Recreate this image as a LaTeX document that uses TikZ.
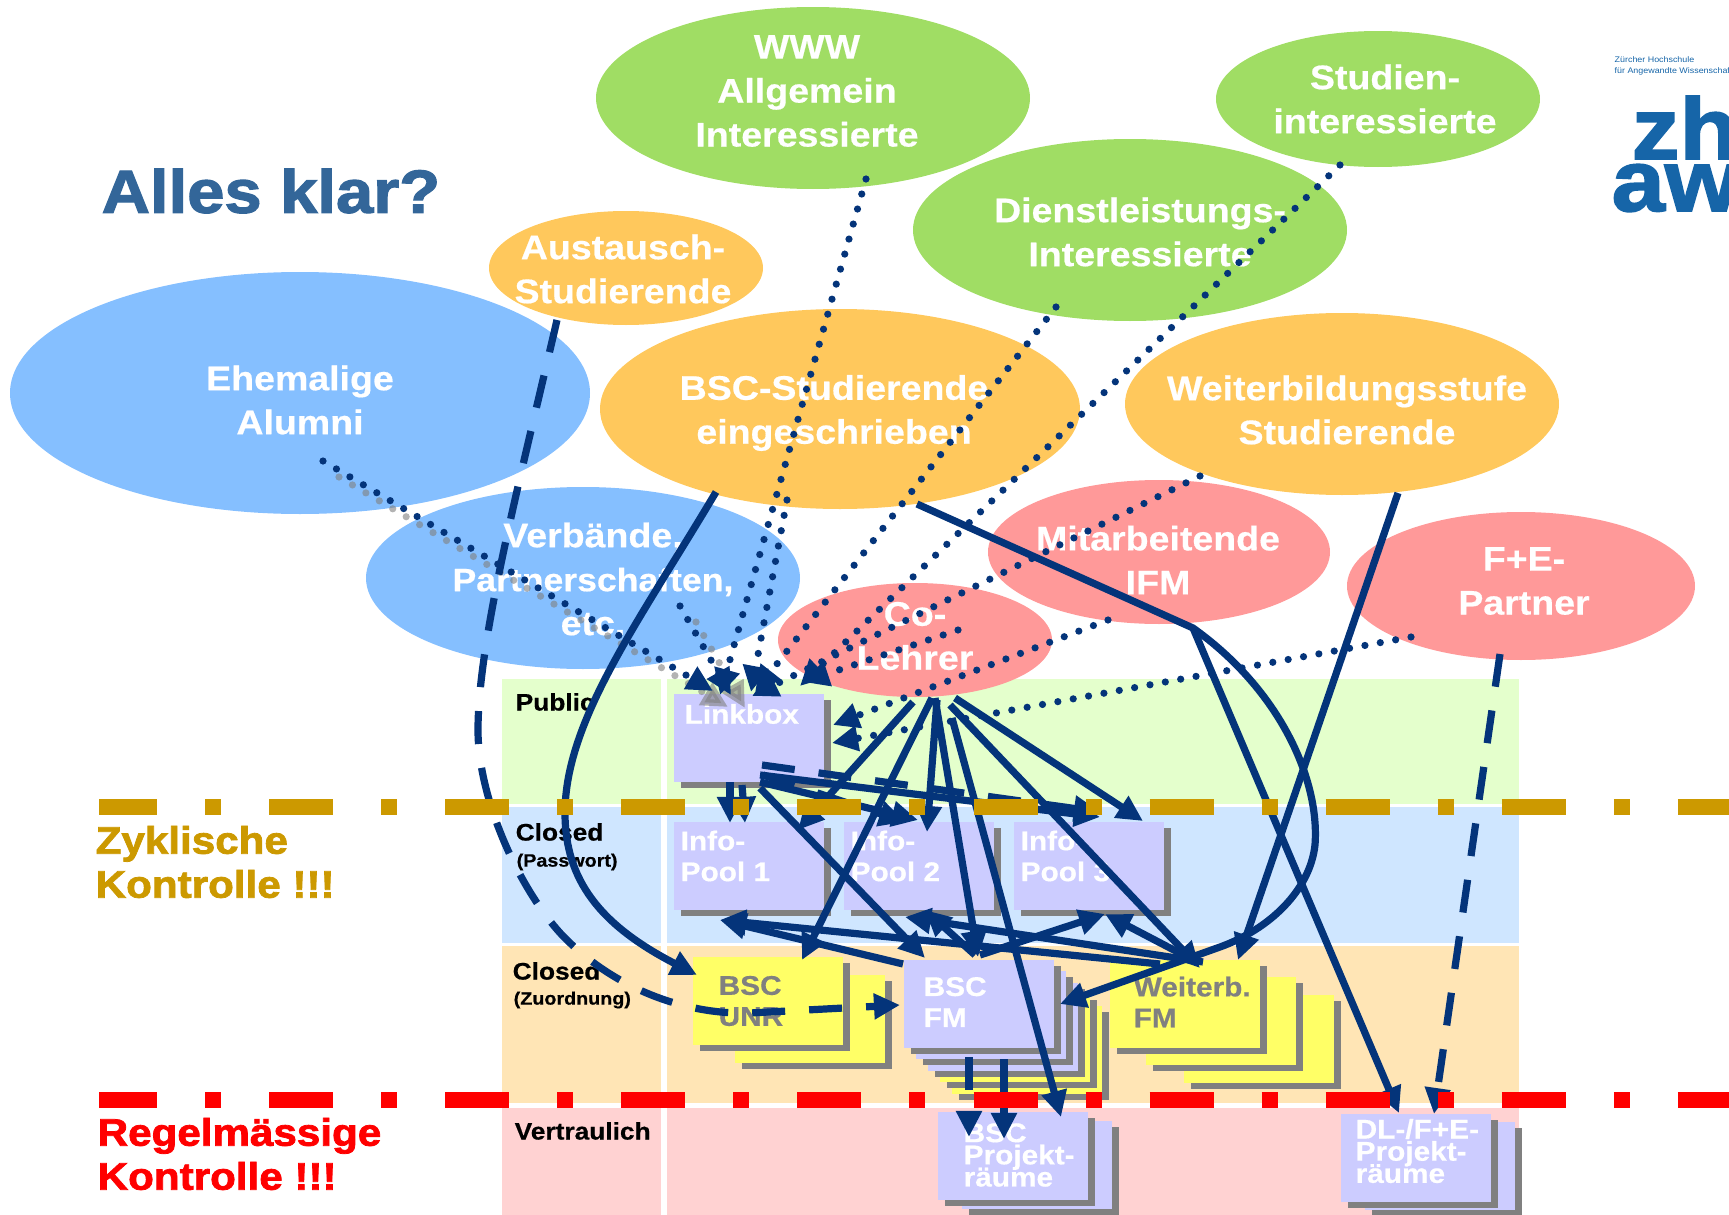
\documentclass[tikz,border=0pt]{standalone}
\usepackage{fontspec}
\setmainfont[FakeStretch=1.1,BoldFeatures={FakeBold=0.5}]{Liberation Sans}
\newfontfamily\heavyfont[FakeStretch=1.1,FakeBold=2]{Liberation Sans Bold}
\usetikzlibrary{arrows.meta,shapes.geometric,shadows}
\definecolor{navyline}{HTML}{04347A}
\definecolor{blobgreen}{HTML}{A0DD64}
\definecolor{bloborange}{HTML}{FFC85C}
\definecolor{blobblue}{HTML}{85BFFF}
\definecolor{blobpink}{HTML}{FF9999}
\definecolor{zonegreen}{HTML}{E4FFCC}
\definecolor{zoneblue}{HTML}{CFE6FF}
\definecolor{zoneorange}{HTML}{FFE5B5}
\definecolor{zonepink}{HTML}{FFD2D2}
\definecolor{cardblue}{HTML}{CCCCFF}
\definecolor{cardyellow}{HTML}{FFFF66}
\definecolor{titleblue}{HTML}{336699}
\definecolor{goldrule}{HTML}{CC9900}
\definecolor{zhawblue}{HTML}{1665A8}
\newcommand{\tightlines}{\setlength{\lineskiplimit}{-10pt}}
\tikzset{
  blob/.style 2 args={ellipse,inner sep=0pt,minimum width=2*#1*0.01cm,minimum height=2*#2*0.01cm},
  blobtext/.style={text=white,font=\fontsize{9.7}{12.5}\selectfont\bfseries,align=center,inner sep=0pt},
  card/.style={rectangle,anchor=north west,fill=cardblue,minimum width=1.5cm,minimum height=.88cm,inner sep=0pt,
    general shadow={fill=gray,shadow xshift=.07cm,shadow yshift=-.06cm}},
  cardtext/.style={anchor=west,align=left,inner sep=0pt,text=white,font=\fontsize{7.7}{8.8}\selectfont\bfseries},
  tighttext/.style={cardtext,font=\tightlines\fontsize{7.7}{6.3}\selectfont\bfseries},
  zonetext/.style={anchor=west,inner sep=0pt,font=\fontsize{6.8}{8}\selectfont\bfseries},
  zonesmall/.style={anchor=west,inner sep=0pt,font=\fontsize{5.1}{6}\selectfont\bfseries},
  warntext/.style={anchor=west,align=left,inner sep=0pt,font=\fontsize{10.9}{12.5}\selectfont\heavyfont},
  flow/.style={line width=2.05pt,draw=navyline,-{Triangle[length=7.4pt,width=7pt,fill=navyline]}},
  flowdash/.style={flow,dash pattern=on .33cm off .24cm},
  flowdot/.style={flow,line cap=round,dash pattern=on 0pt off .156cm},
  greydot/.style={line width=2.05pt,draw=gray,opacity=.6,line cap=round,dash pattern=on 0pt off .156cm,
    -{Triangle[length=7.4pt,width=7pt,fill=gray]}},
  ruleline/.style={line width=4.55pt,dash pattern=on .64cm off .48cm on .16cm off .48cm,dash phase=.06cm}
}
\begin{document}
\begin{tikzpicture}[x=0.01cm,y=-0.01cm]
\useasboundingbox (0,0) rectangle (1729,1215);

\foreach \col/\ya/\yb in {zonegreen/679/804,zoneblue/807/943,zoneorange/946/1103,zonepink/1108/1215}{
  \fill[\col] (502,\ya) rectangle (661,\yb);
  \fill[\col] (667,\ya) rectangle (1519,\yb);
}

\node[zonetext] (public) at (515,702) {Public};
\node[zonetext] (closedpw) at (515,832) {Closed};
\node[zonesmall] (passwort) at (516,862) {(Passwort)};
\node[zonetext] (closedzu) at (512,971) {Closed};
\node[zonesmall] (zuordnung) at (513,1000) {(Zuordnung)};
\node[zonetext] (vertraulich) at (514,1131) {Vertraulich};

\node[blob={217}{91},fill=blobgreen] (www) at (813,98) {};
\node[blob={162}{68},fill=blobgreen] (studien) at (1378,99) {};
\node[blob={217}{91},fill=blobgreen] (dienst) at (1130,230) {};
\node[blob={290}{121},fill=blobblue] (alumni) at (300,393) {};
\node[blob={217}{91},fill=blobblue] (verband) at (583,578) {};
\node[blob={171}{72},fill=blobpink] (mitarb) at (1159,552) {};
\node[blob={137}{57},fill=bloborange] (austausch) at (626,268) {};
\node[blob={240}{100},fill=bloborange] (bscstud) at (840,409) {};
\node[blob={217}{91},fill=bloborange] (weiterstud) at (1342,404) {};
\node[blob={174}{74},fill=blobpink] (fuepartner) at (1521,586) {};
\node[blob={137}{57},fill=blobpink] (colehrer) at (915,640) {};

\node[blobtext] (wwwtext) at (807,91) {WWW\\Allgemein\\Interessierte};
\node[blobtext] (studientext) at (1385,99) {Studien-\\interessierte};
\node[blobtext] (diensttext) at (1140,232) {Dienstleistungs-\\Interessierte};
\node[blobtext] (alumnitext) at (300,400) {Ehemalige\\Alumni};
\node[blobtext] (verbandtext) at (593,579) {Verbände,\\{\fontsize{9.2}{12.5}\selectfont Partnerschaften,}\\etc.};
\node[blobtext] (mitarbtext) at (1158,560) {Mitarbeitende\\IFM};
\node[blobtext] (austauschtext) at (623,269) {Austausch-\\Studierende};
\node[blobtext] (bsctext) at (834,413) {BSC-Studierende\\eingeschrieben};
\node[blobtext] (weitertext) at (1347,410) {Weiterbildungsstufe\\Studierende};
\node[blobtext] (fuetext) at (1524,581) {F+E-\\Partner};
\node[blobtext] (cotext) at (915,636) {Co-\\Lehrer};

\node[card] (linkbox) at (673,693) {};
\node[card] (infoa) at (673,821) {};
\node[card] (infob) at (843,821) {};
\node[card] (infoc) at (1013,821) {};
\node[card,fill=cardyellow] (unrback) at (734,974) {};
\node[card,fill=cardyellow] (bscunr) at (692,956) {};
\foreach \i/\col in {4/cardyellow,3/cardyellow,2/cardblue,1/cardblue}{
  \node[card,fill=\col] (bscfm\i) at (903+12*\i,959+11.5*\i) {};
}
\node[card] (bscfm) at (903,959) {};
\node[card,fill=cardyellow] (weiterc) at (1183,994) {};
\node[card,fill=cardyellow] (weiterb) at (1145,976) {};
\node[card,fill=cardyellow] (weiterfm) at (1109,959) {};
\node[card] (projback) at (961,1120) {};
\node[card] (bscproj) at (937,1111) {};
\node[card] (dlback) at (1364,1121) {};
\node[card] (dlproj) at (1340,1113) {};

\node[cardtext] (linktext) at (684,714) {Linkbox};
\node[cardtext] (infoatext) at (680,856) {Info-\\Pool 1};
\node[cardtext] (infobtext) at (850,856) {Info-\\Pool 2};
\node[cardtext] (infoctext) at (1020,856) {Info-\\Pool 3};
\node[cardtext,text=gray] (unrtext) at (718,1001) {BSC\\UNR};
\node[cardtext] (fmtext) at (923,1002) {BSC\\FM};
\node[cardtext,text=gray] (weitertextb) at (1133,1002) {Weiterb.\\FM};
\node[tighttext] (projtext) at (963,1155) {BSC\\Projekt-\\räume};
\node[tighttext] (dltext) at (1355,1151) {DL-/F+E-\\Projekt-\\räume};

\foreach \name/\x/\y in {
  alumnisrc/323/461,alumnigrey/339/477,verbandsrc/680/606,verbandgrey/696/622,wwwsrc/866/179,
  bscdot/787/500,dienstsrc/1056/307,weiterdot/1200/476,studiensrc/1340/165,codot/958/630,
  mitarbsrc/1108/620,fuesrc/1411/637,
  linkA/713/691,linkAg/728/707,linkB/731/695,linkBg/745/708,linkC/720/695,linkD/751/692,
  linkE/755/692,linkF/752/696,linkG/800/686,linkH/803/682,linkI/833/725,linkJ/832/743,
  coa/913/702,cob/932/698,coc/937/700,cod/935/698,coe/952/718,cof/950/705,cog/955/698,
  infoaTop/798/830,unrTop/802/960,infobTop/927/832,fmTopA/978/957,projTop/1061/1117,
  weiterTop/1200/968,infocTop/1143/821,
  linkOutA/730/782,linkOutB/742/785,linkOutC/760/782,linkOutD/763/775,linkOutE/762/765,
  linkOutF/760/788,linkOutG/760/775,
  infoaTopA/730/823,infoaTopB/745/823,infobTopA/918/820,infobTopB/905/822,infocTopA/1100/812,
  infocTopB/1100/817,fmTopB/925/958,
  fmOutA/903/964,fmOutB/975/955,fmOutC/980/955,fmOutD/969/1057,fmOutE/1004/1059,
  weiterOutA/1160/964,weiterOutB/1203/962,weiterOutC/1193/960,
  infoaLow/720/920,infobLowA/905/917,infobLowB/925/910,infocLowA/1105/914,
  projTopA/969/1137,projTopB/1004/1139,
  bscoutA/716/492,bscbend/565/813,unrLeft/697/975,
  bscoutB/917/504,branch/1193/628,hook/1315/845,hookend/1220/947,fmRight/1060/1004,
  dlTopA/1399/1113,weiterSrc/1398/493,weiterTopB/1238/960,
  austauschsrc/557/320,dashbendA/478/730,dashbendB/562/935,dashbendC/750/1013,fmLeft/900/1005,
  fuedash/1500/654,dlTopB/1434/1114}{
  \coordinate (\name) at (\x,\y);
}

\draw[greydot] (alumnigrey) -- (linkAg);
\draw[greydot] (verbandgrey) -- (linkBg);
\draw[flowdot] (alumnisrc) -- (linkA);
\draw[flowdot] (verbandsrc) -- (linkB);
\draw[flowdot] (wwwsrc) -- (linkC);
\draw[flowdot] (bscdot) -- (linkD);
\draw[flowdot] (dienstsrc) -- (linkE);
\draw[flowdot] (weiterdot) -- (linkF);
\draw[flowdot] (studiensrc) -- (linkG);
\draw[flowdot] (codot) -- (linkH);
\draw[flowdot] (mitarbsrc) -- (linkI);
\draw[flowdot] (fuesrc) -- (linkJ);

\draw[flow] (coa) -- (infoaTop);
\draw[flow] (cob) -- (unrTop);
\draw[flow] (coc) -- (infobTop);
\draw[flow] (cod) -- (fmTopA);
\draw[flow] (coe) -- (projTop);
\draw[flow] (cof) -- (weiterTop);
\draw[flow] (cog) -- (infocTop);

\draw[flow] (linkOutA) -- (infoaTopA);
\draw[flowdash] (linkOutB) -- (infoaTopB);
\draw[flow] (linkOutC) -- (infobTopA);
\draw[flowdash] (linkOutD) -- (infobTopB);
\draw[flowdash] (linkOutE) -- (infocTopA);
\draw[flow] (linkOutG) -- (infocTopB);
\draw[flow] (linkOutF) -- (fmTopB);

\draw[flow] (fmOutA) -- (infoaLow);
\draw[flow] (weiterOutA) -- (infoaLow);
\draw[flow] (weiterOutB) -- (infobLowA);
\draw[flow] (fmOutB) -- (infobLowB);
\draw[flow] (fmOutC) -- (infocLowA);
\draw[flow] (weiterOutC) -- (infocLowA);
\draw[flowdash] (fmOutD) -- (projTopA);
\draw[flow] (fmOutE) -- (projTopB);

\draw[flow] (bscoutA) .. controls (640,620) and (565,720) .. (bscbend) .. controls (565,880) and (600,925) .. (unrLeft);
\draw[flow] (bscoutB) -- (branch) .. controls (1280,690) and (1320,780) .. (hook) .. controls (1310,890) and (1270,929) .. (hookend) -- (fmRight);
\draw[flow] (branch) -- (dlTopA);
\draw[flow] (weiterSrc) -- (weiterTopB);
\draw[flowdash] (austauschsrc) .. controls (520,480) and (478,640) .. (dashbendA) .. controls (478,800) and (520,890) .. (dashbendB) .. controls (610,985) and (680,1015) .. (dashbendC) -- (fmLeft);
\draw[flowdash] (fuedash) -- (dlTopB);

\draw[ruleline,draw=goldrule] (99,807) -- (1729,807);
\draw[ruleline,draw=red] (99,1100) -- (1729,1100);

\node[anchor=west,inner sep=0pt,text=titleblue,font=\fontsize{17.3}{20}\selectfont\heavyfont] (title) at (101,191) {Alles klar?};
\node[warntext,text=goldrule] (zyklisch) at (95,862) {Zyklische\\Kontrolle !!!};
\node[warntext,text=red] (regel) at (97,1154) {Regelmässige\\Kontrolle !!!};

\node[anchor=west,align=left,inner sep=0pt,text=zhawblue,font=\fontsize{2.3}{2.9}\selectfont] (hochschule) at (1614,66) {Zürcher Hochschule\\für Angewandte Wissenschaften};
\node[anchor=base west,inner sep=0pt,text=zhawblue,font=\fontsize{24.7}{24.7}\selectfont\heavyfont,text height=17pt] (zh) at (1631,159) {zh};
\node[anchor=base west,inner sep=0pt,text=zhawblue,font=\fontsize{24.7}{24.7}\selectfont\heavyfont,text height=12pt] (aw) at (1611,211) {aw};
\end{tikzpicture}
\end{document}
